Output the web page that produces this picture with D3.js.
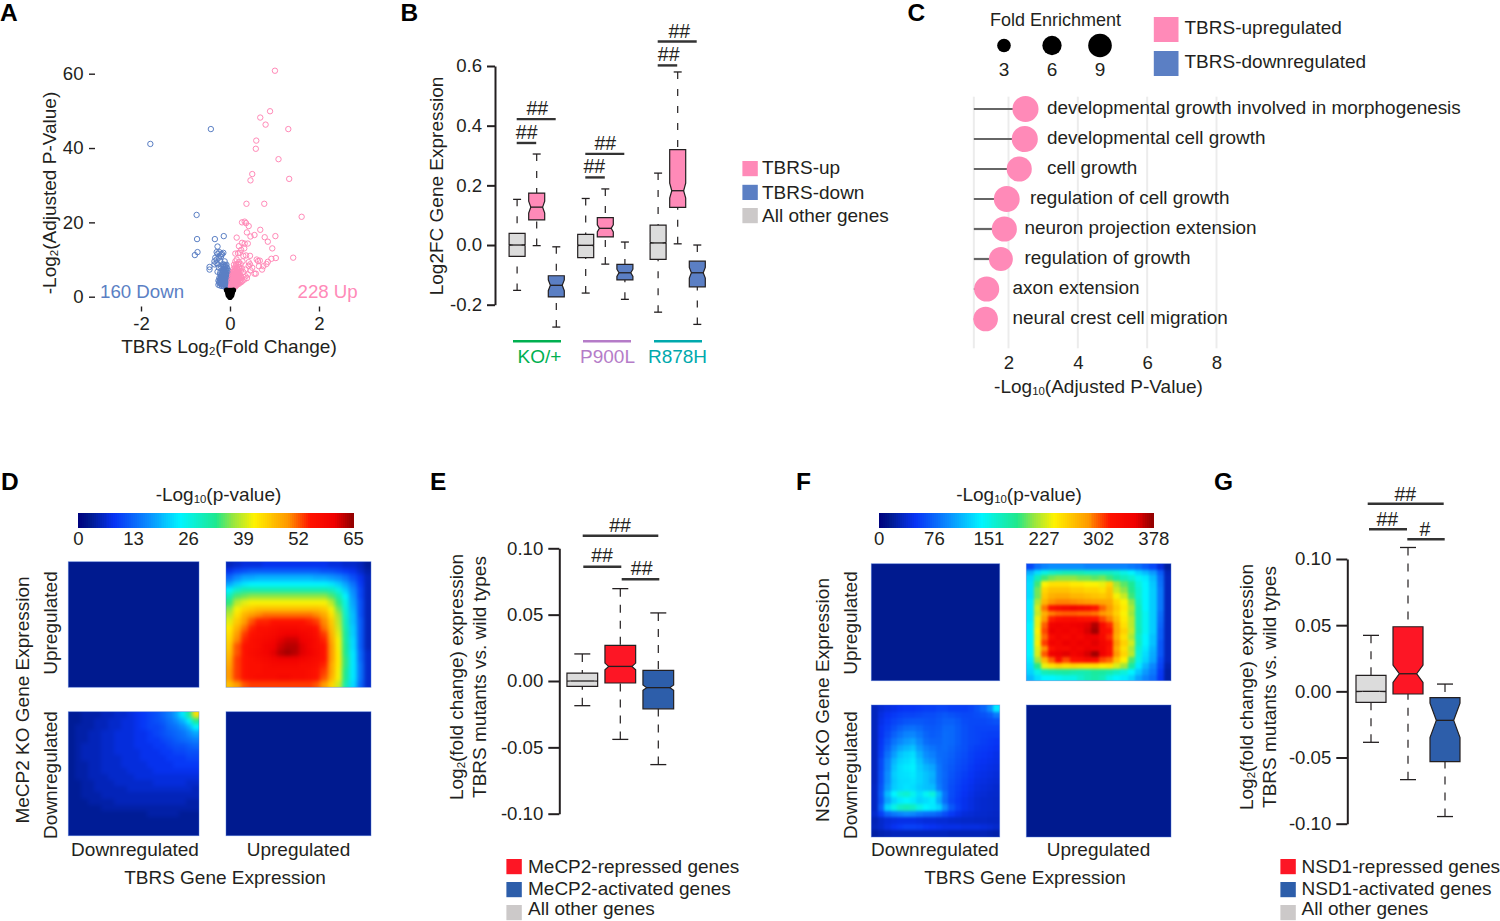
<!DOCTYPE html>
<html><head><meta charset="utf-8">
<script src="https://cdn.jsdelivr.net/npm/d3@7"></script>
<style>html,body{margin:0;padding:0;background:#fff}svg{display:block}text{font-family:"Liberation Sans",Arial,sans-serif;fill:#231f20}</style>
</head><body><svg id="c" width="1500" height="921"></svg>
<script>
// ---------- DATA ----------
// Panel A: volcano points [log2FC, -log2 adj p]
const volcanoUp=[[1.01,60.8],[.90,49.9],[.68,48.2],[.80,46.3],[1.31,45.1],[.59,42],[.58,39.8],[1.09,37],[.50,33],[1.33,31.7],[.46,31.3],[.37,25],[.77,25],[1.61,21.5],
[.27,20],[.33,20.2],[.36,19.8],[.42,19],[.38,17.3],[.46,16.2],[.55,16.6],[.68,18],[.78,16],[.85,14.8],[1.02,16.3],[.95,13],[.15,15.9],[.2,13.6],[.27,14.5],[.33,14.3],[.4,14.3],[.32,13],[.25,12.6],[.18,11.7],[.12,11.6],[.22,11.8],[.3,11],[.36,11.1],[.45,11],[.15,10],[.12,9.5],[.2,9.3],[.28,9.5],[.42,9.3],[.45,8.7],[.42,8.3],[.6,10],[.63,9.6],[.67,9.7],[.85,9.4],[.93,10.2],[1.03,10.4],[1.42,10.5],[.82,8.8],[.75,8.2],[.72,7.3],[.58,6.2],[.55,6.2],[.46,7.1],[.4,6],[.35,5.5],[.3,6.6],[.22,7.8],[.12,8.1],[.1,7],[.18,6.5],[.25,5.1],[.32,4.6],[.28,4.3],[.2,4.9],[.38,5],[.5,7.8],[.65,8.2],[.35,7.3],[.27,7.6],
[.03,2.2],[.05,2.4],[.07,2.6],[.04,2.9],[.08,3],[.1,2.9],[.06,3.3],[.11,3.4],[.13,3.2],[.05,3.6],[.09,3.8],[.12,3.9],[.15,3.6],[.07,4.1],[.1,4.4],[.14,4.3],[.17,4.2],[.06,4.6],[.09,4.9],[.12,5],[.16,5],[.19,4.6],[.08,5.3],[.11,5.6],[.14,5.7],[.18,5.5],[.07,5.9],[.1,6.2],[.13,6.3],[.16,6.2],[.21,5.8],[.09,6.7],[.12,7],[.15,6.9],[.2,6.8],[.04,3.2],[.03,2.6],[.06,2.2],[.09,2.5],[.12,2.7],
[.02,2.8],[.05,3],[.08,2.7],[.11,3],[.14,3],[.17,3.3],[.2,3.5],[.23,3.8],[.26,4],[.03,3.6],[.07,3.6],[.1,3.6],[.14,3.9],[.18,3.8],[.21,4.1],[.24,4.5],[.03,4.4],[.06,4.2],[.09,4.3],[.12,4.6],[.15,4.6],[.18,4.7],[.22,5],[.04,5.1],[.07,5],[.1,5.2],[.13,5.4],[.16,5.6],[.2,5.5],[.24,5.7],[.05,5.8],[.08,6],[.12,6.1],[.15,6.1],[.19,6.2],[.06,6.6],[.1,6.8],[.14,6.7],[.18,7.2],[.24,6.9],[.08,7.5],[.12,7.7],[.16,7.7],[.2,8],[.09,8.6],[.14,8.7],[.18,8.7],[.24,8.8]];
const volcanoDown=[[-1.79,41.1],[-.43,45.1],[-.75,22],[-.74,15.5],[-.34,15.5],[-.14,16.3],[-.28,13.5],[-.73,12],[-.79,11.2],[-.46,8],[-.46,7.3],
[-.3,12],[-.28,11.5],[-.24,12],[-.2,11.3],[-.18,11.5],[-.15,11.8],[-.33,10.5],[-.3,10],[-.25,10.5],[-.2,10.8],[-.35,9.5],[-.3,9],[-.35,8.7],[-.27,8.7],[-.22,9.6],[-.12,9.5],[-.16,8.7],[-.2,8.1],[-.25,7.8],[-.15,8],[-.1,8.4],[-.28,6.7],[-.22,6.4],[-.17,7.2],[-.12,7.5],
[-.03,2.3],[-.05,2.5],[-.07,2.8],[-.1,3],[-.04,3],[-.08,3.4],[-.12,3.3],[-.16,3.4],[-.2,3.5],[-.24,4],[-.06,3.7],[-.1,3.9],[-.14,4],[-.18,4.1],[-.22,4.4],[-.07,4.4],[-.11,4.6],[-.15,4.7],[-.19,4.9],[-.08,5.1],[-.12,5.4],[-.16,5.5],[-.2,5.7],[-.09,5.9],[-.13,6.2],[-.17,6.3],[-.1,6.7],[-.14,7],[-.07,6.4],
[-.26,3.2],[-.22,3],[-.18,2.9],[-.14,2.8],[-.1,2.6],[-.06,2.4],[-.24,3.7],[-.2,3.8],[-.16,3.7],[-.12,3.6],[-.08,3.2],[-.04,2.7],[-.02,2.5],[-.26,4.3],[-.22,4.8],[-.18,4.6],[-.14,4.5],[-.1,4.3],[-.06,4.1],[-.03,3.6],[-.24,5],[-.2,5.3],[-.16,5.1],[-.12,4.9],[-.08,4.7],[-.05,4.4],[-.18,5.8],[-.14,5.8],[-.1,5.5],[-.06,5.2],[-.04,5],[-.22,6],[-.16,6.7],[-.12,6.5],[-.08,6.1],[-.05,5.7],[-.14,7.5],[-.1,7.3],[-.07,7],[-.04,6.3],[-.11,8],[-.07,7.8],[-.04,7.1],[-.13,8.6],[-.08,8.6]];
const volcanoNs=[[0,-.2],[-.02,.1],[.02,.1],[-.04,.4],[.04,.4],[0,.5],[-.05,.9],[.05,.9],[0,1],[-.03,1.2],[.03,1.3],[-.06,1.4],[.06,1.4],[-.04,1.7],[.04,1.7],[-.08,1.8],[.08,1.8],[0,1.7]];
const volcanoTicksX=[-2,0,2], volcanoTicksY=[0,20,40,60];

// Panel B: [low whisker, q1, median, q3, high whisker, notch half-height]
const bGroups=["KO/+","P900L","R878H"];
const bSeries=["All other genes","TBRS-up","TBRS-down"];
const bKoBoxes=[[-.152,-.038,0,.039,.153,.002],[-.002,.084,.127,.174,.305,.02],[-.275,-.174,-.135,-.103,-.006,.018]];
const bP900Boxes=[[-.161,-.042,-.001,.036,.156,.002],[-.064,.027,.056,.092,.188,.012],[-.182,-.117,-.093,-.065,.01,.012]];
const bR878Boxes=[[-.225,-.048,.007,.067,.241,.002],[.004,.126,.182,.32,.58,.025],[-.266,-.14,-.093,-.054,0,.018]];
const bTicks=[-.2,0,.2,.4,.6];
const bSigTop=[.4218,.3056,.682], bSigLow=[.342,.2266,.602];
const bLegend=["TBRS-up","TBRS-down","All other genes"];

// Panel C
const goTerms=["developmental growth involved in morphogenesis","developmental cell growth","cell growth","regulation of cell growth","neuron projection extension","regulation of growth","axon extension","neural crest cell migration"];
const goPValue=[2.49,2.47,2.31,1.95,1.88,1.78,1.37,1.34];
const goFold=[11,11,10.2,10.8,10.2,9.3,10.2,9.8];
const goTicks=[2,4,6,8], goFoldLegend=[3,6,9];

// Panels E, G: [low whisker, q1, median, q3, high whisker, notch half-height]
const eBoxes=[[-.0186,-.004,0,.006,.0204,.0002],[-.044,-.0015,.011,.0269,.0696,.0025],[-.063,-.021,-.005,.008,.0513,.002]];
const gBoxes=[[-.0385,-.0083,0,.012,.0423,.0002],[-.0667,-.002,.0133,.0488,.1087,.0065],[-.0946,-.0531,-.0219,-.0048,.0055,.013]];
const fcTicks=[-.10,-.05,0,.05,.10];
const eLegend=["MeCP2-repressed genes","MeCP2-activated genes","All other genes"];
const gLegend=["NSD1-repressed genes","NSD1-activated genes","All other genes"];

// Panels D, F: -log10(p) overlap grids
const dTicks=[0,13,26,39,52,65], fTicks=[0,76,151,227,302,378];
const dFlat=[[2.6]], fFlat=[[15]];
const dUpUp=[
[5,6,7,7,7,8,8,8,8,8,8,8,8,8,7,7,6,6,5,3],
[8,10,11,12,12,12,12,12,12,12,12,12,12,11,11,10,9,8,6,4],
[13,16,18,18,19,19,19,19,19,19,19,19,18,18,17,16,14,11,8,5],
[18,21,23,24,24,24,24,24,24,24,24,24,24,24,23,21,18,14,9,5],
[24,28,30,30,30,30,30,30,30,30,30,30,30,30,29,26,21,16,10,5],
[29,34,35,36,36,36,36,36,36,36,36,36,36,36,34,30,24,17,10,5],
[33,38,40,41,41,41,41,41,41,41,41,41,41,41,38,33,26,18,11,5],
[36,41,44,45,46,46,46,46,46,46,46,46,46,45,41,35,27,19,11,5],
[38,43,47,49,50,51,51,51,51,51,51,51,50,48,43,37,28,20,11,5],
[40,45,49,52,54,54,55,55,55,55,55,54,53,50,45,38,29,20,12,5],
[42,47,51,54,56,56,57,58,58,58,57,57,55,51,46,39,30,21,12,5],
[43,49,53,55,56,57,58,59,60,60,59,58,56,53,47,40,31,21,12,5],
[44,50,54,56,57,58,59,61,62,62,60,59,57,54,48,41,31,22,12,5],
[45,52,55,56,57,59,60,62,63,63,61,59,57,55,49,41,32,22,12,5],
[46,52,55,57,58,59,61,63,64,63,61,60,58,55,49,42,32,23,13,6],
[47,53,55,56,57,58,59,60,60,60,59,58,57,55,49,42,33,23,13,6],
[48,53,55,56,56,57,58,58,58,58,57,57,56,54,48,42,33,23,14,6],
[49,53,55,56,56,57,57,57,57,57,57,56,55,53,48,41,32,23,14,6],
[49,53,55,56,57,57,57,58,58,57,57,56,55,52,47,41,32,23,14,6],
[46,49,52,53,53,53,53,53,53,53,53,53,52,49,44,39,30,22,13,6]];
const dDownDown=[
[3,3,4,4,4,5,5,6,6,7,8,9,10,11,13,15,18,23,31,43],
[3,3,4,4,5,5,6,6,7,7,8,9,10,11,12,14,16,19,24,32],
[3,4,4,4,5,5,6,6,7,7,8,9,10,10,11,13,14,16,19,24],
[3,4,4,5,5,6,6,7,7,7,8,8,9,10,11,12,13,14,16,18],
[3,4,4,5,5,6,6,7,7,7,8,8,9,9,10,11,12,13,14,15],
[3,4,5,5,5,6,6,7,7,7,8,8,8,9,9,10,11,11,12,13],
[3,4,5,5,5,6,6,7,7,7,7,8,8,8,9,9,10,10,11,11],
[3,4,5,5,5,6,6,6,7,7,7,8,8,8,8,9,9,9,10,10],
[3,4,4,5,5,6,6,6,7,7,7,7,8,8,8,8,9,9,9,9],
[3,4,4,5,5,6,6,6,6,7,7,7,7,8,8,8,8,8,8,8],
[3,4,4,5,5,5,6,6,6,6,7,7,7,7,7,7,7,7,7,7],
[3,3,4,4,5,5,5,6,6,6,6,6,6,7,7,7,7,7,6,6],
[3,3,4,4,5,5,5,5,5,6,6,6,6,6,6,6,6,6,6,5],
[3,3,4,4,4,5,5,5,5,5,5,5,5,5,5,5,5,5,5,5],
[3,3,3,4,4,4,4,5,5,5,5,5,5,5,5,5,5,5,4,4],
[3,3,3,3,3,4,4,4,4,4,4,4,4,4,4,4,4,4,4,4],
[3,3,3,3,3,3,3,3,3,3,3,3,4,4,4,4,4,3,3,3],
[3,3,3,3,3,3,3,3,3,3,3,3,3,3,3,3,3,3,3,3],
[3,3,3,3,3,3,3,3,3,3,3,3,3,3,3,3,3,3,3,3],
[3,3,3,3,3,3,3,3,3,3,3,3,3,3,3,3,3,3,3,3]];
const fUpUp=[
[60,80,90,95,95,95,95,95,90,90,90,90,90,90,85,80,70,60,40,20],
[110,130,150,160,165,170,170,170,165,165,165,165,160,150,140,125,115,100,70,28],
[125,170,195,205,210,210,210,205,205,200,205,195,180,170,160,145,135,115,78,30],
[130,195,240,250,250,250,245,245,240,240,235,255,215,200,185,155,140,120,82,30],
[130,205,255,265,265,265,260,260,255,255,250,265,225,210,190,160,140,122,85,30],
[130,205,262,275,278,278,272,272,268,265,262,268,238,225,195,160,140,122,85,30],
[135,218,272,288,292,292,290,288,285,282,280,278,255,240,210,165,140,122,85,30],
[135,228,295,325,335,340,345,340,335,320,300,285,262,245,218,170,140,122,85,30],
[135,225,275,292,298,300,300,298,298,295,285,278,258,240,215,170,145,122,80,30],
[135,235,285,315,325,328,330,325,322,318,305,292,268,245,222,170,145,122,78,30],
[140,235,300,345,350,345,350,352,355,368,332,312,278,250,222,170,145,122,75,30],
[140,240,305,352,345,350,342,350,358,372,330,322,280,258,225,172,145,122,72,30],
[140,236,298,332,345,338,348,340,352,352,335,312,276,250,218,165,140,118,72,30],
[140,238,308,345,340,352,345,352,348,355,342,328,286,258,228,168,140,118,68,30],
[140,232,288,322,338,335,348,342,352,350,345,322,278,250,218,160,135,112,68,30],
[140,230,302,350,352,355,345,352,358,372,350,326,286,256,222,155,130,108,68,30],
[135,215,270,300,328,305,322,325,335,332,305,298,265,242,198,150,125,105,62,30],
[130,190,235,250,258,252,256,252,250,252,245,248,230,215,180,135,112,92,58,25],
[125,150,170,175,178,180,175,172,175,182,180,175,165,155,140,120,100,85,52,22],
[115,130,140,140,145,150,150,162,172,178,170,150,140,135,125,105,90,78,50,22]];
const fDownDown=[
[30,38,42,45,48,50,50,52,55,55,58,58,55,55,55,58,65,75,95,135],
[30,42,48,52,56,58,58,60,62,62,65,68,65,62,60,60,62,65,70,85],
[30,45,52,58,62,66,68,68,66,65,68,72,72,68,62,60,60,60,62,65],
[30,48,56,64,72,78,80,76,70,68,70,76,76,70,64,60,58,58,58,58],
[30,48,60,72,82,90,92,84,74,70,72,78,76,70,64,60,58,56,55,55],
[30,50,66,82,92,100,105,92,78,74,74,78,76,70,64,60,58,55,52,50],
[30,52,72,92,105,112,118,100,88,82,76,78,74,68,64,58,55,52,50,48],
[30,55,80,102,118,125,130,110,95,88,78,76,72,66,62,56,52,50,48,45],
[30,60,88,112,125,130,135,118,102,95,80,75,70,64,60,55,50,48,46,44],
[30,60,90,118,130,135,138,122,112,105,84,74,68,62,58,52,48,46,44,42],
[30,62,95,122,130,132,135,125,118,110,85,75,66,60,55,50,46,44,42,40],
[30,62,95,120,128,130,132,125,118,108,85,74,64,58,52,48,44,42,40,38],
[32,65,100,122,128,132,130,122,118,115,88,74,62,56,50,46,42,40,38,36],
[32,68,115,140,155,160,148,130,145,155,115,80,62,54,48,44,40,38,36,35],
[32,65,105,125,135,140,135,125,130,135,108,78,60,52,46,42,38,36,35,34],
[32,72,125,150,165,170,165,150,140,135,125,95,68,55,46,42,38,36,35,34],
[35,55,75,85,90,95,92,85,80,78,72,62,52,45,40,38,36,35,34,33],
[28,35,40,42,44,44,44,42,40,40,38,38,36,35,34,34,33,33,32,32],
[30,35,42,48,52,56,56,54,50,48,46,44,44,44,42,42,42,40,38,35],
[22,26,28,30,30,30,30,30,30,30,30,30,28,28,28,28,28,28,26,24]];

// ---------- STYLE ----------
const PINK="#ff8ab8", BLUE="#5b7fc4", GRAY="#dcdcdc", LGRAY="#ccc9c9", RED="#fd1625", DBLUE="#2d5eaa", INK="#231f20";
const FS=19, TICK=18.6;
const svg=d3.select("#c");

function label(g,x,y,parts,o={}){
  const t=g.append("text").attr("x",x).attr("y",y).attr("dy",".3em")
    .attr("font-size",o.size||FS).attr("text-anchor",o.anchor||"start");
  if(o.fill) t.style("fill",o.fill);
  if(o.weight) t.attr("font-weight",o.weight);
  if(o.rotate) t.attr("transform",`rotate(${o.rotate} ${x} ${y})`);
  if(o.width) t.attr("textLength",o.width).attr("lengthAdjust","spacingAndGlyphs");
  const ps=Array.isArray(parts)?parts:[parts];
  ps.forEach((p,i)=>{
    const s=t.append("tspan").text(p);
    if(i%2===1){s.attr("font-size",(o.size||FS)*.6).attr("dy",2);}
    else if(i>0){s.attr("dy",-2);}
  });
  return t;
}
function styleAxis(a,o={}){
  a.selectAll("text").attr("font-size",o.size||TICK).style("fill",INK).attr("font-family",'"Liberation Sans",Arial,sans-serif');
  a.selectAll("line").attr("stroke",INK).attr("stroke-width",o.tw||2);
  a.select(".domain").attr("stroke",INK).attr("stroke-width",o.dw||2);
}
const hy=v=>v.replace("\u2212","-");

// panel letters
[["A",0,14],["B",400.5,14],["C",907.5,14],["D",1,483],["E",430,483],["F",796,483],["G",1214,483]].forEach(d=>
  label(svg,d[1],d[2],d[0],{size:24.5,weight:"bold"}).style("fill","#000"));

// ---------- A ----------
(function(){
  const g=svg.append("g");
  const x=d3.scaleLinear().domain([-2,2]).range([141,319]);
  const y=d3.scaleLinear().domain([0,60]).range([296.7,73.7]);
  const ax=g.append("g").attr("transform","translate(95,0)").call(d3.axisLeft(y).tickValues(volcanoTicksY).tickSize(6).tickPadding(5.5).tickFormat(d3.format("d")));
  ax.select(".domain").remove(); styleAxis(ax,{tw:1.4});
  const bx=g.append("g").attr("transform","translate(0,306.5)").call(d3.axisBottom(x).tickValues(volcanoTicksX).tickSize(5).tickPadding(5.5).tickFormat(d=>hy(d3.format("d")(d))));
  bx.select(".domain").remove(); styleAxis(bx,{tw:1.4});
  const dots=(data,c)=>g.append("g").selectAll("circle").data(data).join("circle")
    .attr("cx",d=>x(d[0])).attr("cy",d=>y(d[1])).attr("r",2.7).attr("fill","none").attr("stroke",c).attr("stroke-width",1);
  dots(volcanoDown,BLUE); dots(volcanoUp,PINK);
  g.append("g").selectAll("circle").data(volcanoNs).join("circle")
    .attr("cx",d=>x(d[0])).attr("cy",d=>y(d[1])).attr("r",2.6).attr("fill","#000");
  label(g,50,193,["-Log","2","(Adjusted P-Value)"],{anchor:"middle",rotate:-90});
  label(g,229,347,["TBRS Log","2","(Fold Change)"],{anchor:"middle"});
  label(g,100,292,"160 Down",{size:18.7,fill:BLUE});
  label(g,297.5,292,"228 Up",{size:18.7,fill:PINK});
})();

// ---------- Box helper ----------
function drawBox(g,cx,w,capW,b,y,fill,inset,dash){
  const [lo,q1,med,q3,hi,n]=b;
  const x0=cx-w/2,x1=cx+w/2,ins=w*inset;
  g.append("line").attr("x1",cx).attr("x2",cx).attr("y1",y(hi)).attr("y2",y(q3)).attr("stroke",INK).attr("stroke-width",1.2).attr("stroke-dasharray",dash);
  g.append("line").attr("x1",cx).attr("x2",cx).attr("y1",y(lo)).attr("y2",y(q1)).attr("stroke",INK).attr("stroke-width",1.2).attr("stroke-dasharray",dash);
  [hi,lo].forEach(v=>g.append("line").attr("x1",cx-capW/2).attr("x2",cx+capW/2).attr("y1",y(v)).attr("y2",y(v)).attr("stroke",INK).attr("stroke-width",1.3));
  const p=d3.path();
  p.moveTo(x0,y(q3));p.lineTo(x1,y(q3));p.lineTo(x1,y(med+n));p.lineTo(x1-ins,y(med));p.lineTo(x1,y(med-n));p.lineTo(x1,y(q1));
  p.lineTo(x0,y(q1));p.lineTo(x0,y(med-n));p.lineTo(x0+ins,y(med));p.lineTo(x0,y(med+n));p.closePath();
  g.append("path").attr("d",p.toString()).attr("fill",fill).attr("stroke",INK).attr("stroke-width",1.2);
  g.append("line").attr("x1",x0+ins).attr("x2",x1-ins).attr("y1",y(med)).attr("y2",y(med)).attr("stroke",INK).attr("stroke-width",1.3);
}
function sigBar(g,x0,x1,yy,s,tx,ty){
  g.append("line").attr("x1",x0).attr("x2",x1).attr("y1",yy).attr("y2",yy).attr("stroke","#333").attr("stroke-width",2.4);
  label(g,tx,ty+.7,s,{size:19.5,anchor:"middle"});
}
function legend(g,x,ys,tys,names,cols,tx){
  names.forEach((n,i)=>{
    g.append("rect").attr("x",x).attr("y",ys[i]).attr("width",15.4).attr("height",15.2).attr("fill",cols[i]);
    label(g,tx,tys[i],n);
  });
}

// ---------- B ----------
(function(){
  const g=svg.append("g");
  const y=d3.scaleLinear().domain([-.2,.6]).range([304.7,66]);
  const groupX=d3.scaleOrdinal().domain(bGroups).range([536.7,605.3,677.7]);
  const sub=d3.scalePoint().domain(bSeries).range([-19.6,19.6]);
  const ax=g.append("g").attr("transform","translate(495,0)").call(d3.axisLeft(y).tickValues(bTicks).tickSize(8).tickSizeOuter(0).tickPadding(5).tickFormat(d=>hy(d3.format(".1f")(d))));
  styleAxis(ax);
  const fills=[GRAY,PINK,BLUE];
  [bKoBoxes,bP900Boxes,bR878Boxes].forEach((boxes,gi)=>{
    boxes.forEach((b,si)=>drawBox(g,groupX(bGroups[gi])+sub(bSeries[si]),16,8,b,y,fills[si],.13,"7 10"));
  });
  const tickX=[[537.3,526.7],[605.3,594.3],[679.3,668.7]];
  bGroups.forEach((n,i)=>{
    const c=groupX(n);
    sigBar(g,c-20,c+19,y(bSigTop[i]),"##",tickX[i][0],y(bSigTop[i])-10.5);
    sigBar(g,c-20,c-0.5,y(bSigLow[i]),"##",tickX[i][1],y(bSigLow[i])-10.5);
  });
  const gc=["#00b050","#b57cc8","#00a9ad"], lx=[537,607,678], tx=[539.5,607.5,677.5];
  bGroups.forEach((n,i)=>{
    g.append("line").attr("x1",lx[i]-24).attr("x2",lx[i]+24).attr("y1",341.3).attr("y2",341.3).attr("stroke",gc[i]).attr("stroke-width",2.4);
    label(g,tx[i],357,n,{anchor:"middle",fill:gc[i]});
  });
  label(g,437,186,"Log2FC Gene Expression",{anchor:"middle",rotate:-90});
  legend(g,742.4,[161,184.8,208],[168.5,193.7,216],bLegend,[PINK,BLUE,LGRAY],762);
})();

// ---------- C ----------
(function(){
  const g=svg.append("g");
  const x=d3.scaleLinear().domain([2,8]).range([1008.5,1216.5]);
  const y=d3.scalePoint().domain(goTerms).range([109,319]);
  const r=d3.scaleSqrt().domain([0,9]).range([0,11.8]);
  [1,...goTicks].forEach(v=>g.append("line").attr("x1",x(v)).attr("x2",x(v)).attr("y1",96.7).attr("y2",348.3).attr("stroke","#ececec").attr("stroke-width",2));
  const ax=g.append("g").attr("transform","translate(0,350)").call(d3.axisBottom(x).tickValues(goTicks).tickSize(0).tickPadding(6).tickFormat(d3.format("d")));
  ax.select(".domain").remove(); styleAxis(ax);
  const labelX=[1047,1047,1047,1030,1024.5,1024.5,1012.5,1012.5];
  goTerms.forEach((t,i)=>{
    g.append("line").attr("x1",x(1)).attr("x2",x(goPValue[i])).attr("y1",y(t)).attr("y2",y(t)).attr("stroke","#666").attr("stroke-width",2.2);
    g.append("circle").attr("cx",x(goPValue[i])).attr("cy",y(t)).attr("r",r(goFold[i])).attr("fill",PINK);
    label(g,labelX[i],y(t)-.5,t,{size:18.9});
  });
  label(g,1098.5,387,["-Log","10","(Adjusted P-Value)"],{anchor:"middle"});
  label(g,1055.5,20.5,"Fold Enrichment",{anchor:"middle",width:131});
  const lx=[1004,1052,1100];
  goFoldLegend.forEach((f,i)=>{
    g.append("circle").attr("cx",lx[i]).attr("cy",45.5).attr("r",r(f)).attr("fill","#000");
    label(g,lx[i],70,String(f),{anchor:"middle"});
  });
  g.append("rect").attr("x",1153.8).attr("y",17).attr("width",24.7).attr("height",25).attr("fill",PINK);
  g.append("rect").attr("x",1153.8).attr("y",51).attr("width",24.7).attr("height",25).attr("fill",BLUE);
  label(g,1184.5,28.5,"TBRS-upregulated");
  label(g,1184.5,62.5,"TBRS-downregulated");
})();

// ---------- Heat maps ----------
const defs=svg.append("defs");
[["soft",1.9],["softer",1.5]].forEach(f=>
defs.append("filter").attr("id",f[0]).attr("filterUnits","userSpaceOnUse").attr("x",0).attr("y",0).attr("width",1500).attr("height",921)
  .attr("color-interpolation-filters","sRGB").append("feGaussianBlur").attr("stdDeviation",f[1]));
const jetStops=[[0,"#00037f"],[.04,"#001a8f"],[.13,"#0733f5"],[.25,"#0a8cff"],[.37,"#00f5ff"],[.5,"#1fe88c"],[.56,"#96e640"],[.637,"#fff200"],[.76,"#ff9800"],[.84,"#ff1200"],[.93,"#f00000"],[1,"#8b0000"]];
let clipN=0;
function heat(g,box,grid,color,filter){
  const [x0,y0,w,h]=box, rows=d3.range(grid.length), cols=d3.range(grid[0].length);
  const xs=d3.scaleBand().domain(cols).range([x0,x0+w]), ys=d3.scaleBand().domain(rows).range([y0,y0+h]);
  const id="hc"+(clipN++);
  defs.append("clipPath").attr("id",id).append("rect").attr("x",x0).attr("y",y0).attr("width",w).attr("height",h);
  const outer=g.append("g").attr("clip-path",`url(#${id})`);
  const inner=outer.append("g"); if(filter) inner.attr("filter",`url(#${filter})`);
  const E=12, nc=cols.length-1, nr=rows.length-1;
  grid.forEach((row,i)=>row.forEach((v,j)=>{
    inner.append("rect")
      .attr("x",xs(j)-(j===0?E:0)).attr("y",ys(i)-(i===0?E:0))
      .attr("width",xs.bandwidth()+.4+(j===0||j===nc?E:0)).attr("height",ys.bandwidth()+.4+(i===0||i===nr?E:0))
      .attr("fill",color(v)).attr("shape-rendering","crispEdges");
  }));
  g.append("rect").attr("x",x0).attr("y",y0).attr("width",w).attr("height",h).attr("fill","none").attr("stroke","#4f78d8").attr("stroke-opacity",.55).attr("stroke-width",.8);
}
function heatPanel(o){
  const g=svg.append("g"), max=d3.max(o.ticks);
  const color=d3.scaleLinear().domain(jetStops.map(d=>d[0]*max)).range(jetStops.map(d=>d[1])).clamp(true);
  const bar=d3.scaleLinear().domain([0,max]).range(o.bar);
  d3.range(0,max,max/140).forEach(v=>g.append("rect").attr("x",bar(v)).attr("y",513.3).attr("width",(o.bar[1]-o.bar[0])/140+.5).attr("height",14.4).attr("fill",color(v)).attr("shape-rendering","crispEdges"));
  const a=g.append("g").attr("transform","translate(0,527.7)").call(d3.axisBottom(bar).tickValues(o.ticks).tickSize(0).tickPadding(4).tickFormat(d3.format("d")));
  a.select(".domain").remove(); styleAxis(a);
  label(g,(o.bar[0]+o.bar[1])/2+3,495,["-Log","10","(p-value)"],{anchor:"middle"});
  heat(g,o.ul,o.flat,color,null); heat(g,o.ur,o.upup,color,o.filter);
  heat(g,o.ll,o.downdown,color,o.filter); heat(g,o.lr,o.flat,color,null);
  label(g,o.xl[0],850,"Downregulated",{anchor:"middle"});
  label(g,o.xl[1],850,"Upregulated",{anchor:"middle"});
  label(g,o.xl[2],878,"TBRS Gene Expression",{anchor:"middle"});
  label(g,o.yl[0],o.yl[1],o.ytitle,{anchor:"middle",rotate:-90});
  label(g,o.yl2,o.up,"Upregulated",{anchor:"middle",rotate:-90});
  label(g,o.yl2,o.down,"Downregulated",{anchor:"middle",rotate:-90});
}
heatPanel({ticks:dTicks,bar:[78,353],flat:dFlat,upup:dUpUp,downdown:dDownDown,filter:"soft",
  ul:[68.3,561.7,130.7,125.6],ur:[226,561.7,145,125.6],ll:[68.3,711.7,130.7,124],lr:[226,711.7,145,124],
  xl:[135,298.5,225],yl:[23,700],ytitle:"MeCP2 KO Gene Expression",yl2:51,up:623,down:775});
heatPanel({ticks:fTicks,bar:[878.7,1153.3],flat:fFlat,upup:fUpUp,downdown:fDownDown,filter:"softer",
  ul:[871.3,563.7,128.4,117],ur:[1026.3,563.7,144.7,117],ll:[871.3,705,128.4,132],lr:[1026.3,705,144.7,132],
  xl:[935,1098.5,1025],yl:[823,700],ytitle:"NSD1 cKO Gene Expression",yl2:851,up:623,down:775});

// ---------- E, G ----------
function fcPanel(o){
  const g=svg.append("g");
  const y=d3.scaleLinear().domain([-.1,.1]).range(o.yr);
  const x=d3.scalePoint().domain(o.names).range(o.xr);
  const a=g.append("g").attr("transform",`translate(${o.ax},0)`).call(d3.axisLeft(y).tickValues(fcTicks).tickSize(11).tickSizeOuter(0).tickPadding(5).tickFormat(d=>hy(d3.format(".2f")(d))));
  styleAxis(a);
  const fills=[GRAY,RED,DBLUE];
  o.boxes.forEach((b,i)=>drawBox(g,x(o.names[i]),o.w,16,b,y,fills[i],o.inset,"8 8"));
  o.sig.forEach(s=>sigBar(g,s[0],s[1],s[2],s[3],s[4],s[5]));
  label(g,o.t1[0],o.t1[1],["Log","2","(fold change) expression"],{anchor:"middle",rotate:-90});
  label(g,o.t2[0],o.t2[1],"TBRS mutants vs. wild types",{anchor:"middle",rotate:-90});
  legend(g,o.lx,[859,882,905],[867,889,909.5],o.legend,[RED,DBLUE,LGRAY],o.tx);
}
fcPanel({names:["other","repressed","activated"],boxes:eBoxes,yr:[813.7,548.3],xr:[582.3,658.3],ax:559.3,w:30.7,inset:.12,legend:eLegend,lx:506.4,tx:528,
  t1:[457,677],t2:[480,677],
  sig:[[582.7,658.3,535.7,"##",620,525.7],[583.3,621.3,566.7,"##",602,555.7],[621.7,659.3,579.3,"##",641.7,568.7]]});
fcPanel({names:["other","repressed","activated"],boxes:gBoxes,yr:[823.7,559],xr:[1371,1445],ax:1347.3,w:30,inset:.21,legend:gLegend,lx:1280.4,tx:1301.5,
  t1:[1247,687],t2:[1270,687],
  sig:[[1367.7,1443.7,503.7,"##",1405.3,494],[1369,1407,529.3,"##",1387.3,519],[1407.3,1444.7,539.3,"#",1425,529.7]]});
</script></body></html>
